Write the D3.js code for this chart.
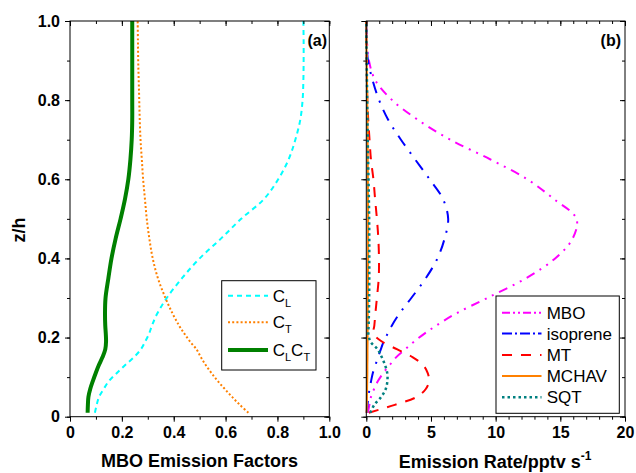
<!DOCTYPE html>
<html>
<head>
<meta charset="utf-8">
<script src="https://cdn.jsdelivr.net/npm/d3@7"></script>
<style>
  html, body { margin: 0; padding: 0; background: #fff; }
  svg { display: block; font-family: "Liberation Sans", Arial, sans-serif; }
</style>
</head>
<body>
<svg id="chart" width="636" height="473"></svg>
<script>
// Perfiles verticales en el dosel: (a) factores de emision de MBO, (b) tasas de emision.
// Todas las curvas leidas sobre la misma grilla de alturas normalizadas z/h.

const Z_LEVELS = [0.01, 0.03, 0.05, 0.07, 0.09, 0.11, 0.13, 0.15, 0.17, 0.19, 0.21, 0.23, 0.26,
  0.30, 0.35, 0.40, 0.45, 0.50, 0.55, 0.60, 0.65, 0.70, 0.75, 0.80, 0.85, 0.90, 0.95, 1.00];

// panel (a)
const C_L = [0.096, 0.103, 0.112, 0.130, 0.150, 0.180, 0.212, 0.246, 0.273, 0.290, 0.305, 0.316, 0.336,
  0.373, 0.432, 0.500, 0.582, 0.660, 0.748, 0.803, 0.843, 0.869, 0.888, 0.897, 0.900, 0.901, 0.901, 0.900];
const C_T = [0.688, 0.655, 0.625, 0.597, 0.570, 0.546, 0.524, 0.505, 0.488, 0.463, 0.441, 0.421, 0.396,
  0.368, 0.339, 0.319, 0.306, 0.296, 0.289, 0.282, 0.277, 0.272, 0.269, 0.267, 0.265, 0.263, 0.262, 0.261];
const C_LC_T = [0.068, 0.069, 0.071, 0.078, 0.088, 0.099, 0.111, 0.125, 0.136, 0.139, 0.138, 0.136, 0.135,
  0.137, 0.148, 0.160, 0.176, 0.195, 0.212, 0.225, 0.233, 0.238, 0.240, 0.240, 0.240, 0.240, 0.240, 0.240];

// panel (b), pptv s-1
const MBO = [0.12, 0.24, 0.36, 0.60, 0.90, 1.30, 1.80, 2.30, 3.00, 3.70, 4.50, 5.40, 6.90,
  9.35, 12.35, 14.60, 15.95, 16.25, 14.50, 12.45, 9.60, 6.50, 4.00, 2.00, 0.70, 0.20, 0.05, 0.00];
const ISOPRENE = [0.03, 0.09, 0.16, 0.25, 0.37, 0.50, 0.70, 0.91, 1.12, 1.35, 1.65, 1.97, 2.55,
  3.48, 4.60, 5.50, 6.05, 6.33, 5.93, 4.89, 3.78, 2.68, 1.70, 0.99, 0.49, 0.13, 0.03, 0.00];
const MT = [0.20, 2.20, 3.90, 4.60, 4.85, 4.75, 4.40, 3.60, 2.40, 1.20, 0.55, 0.62, 0.70,
  0.82, 0.96, 0.98, 0.93, 0.82, 0.68, 0.55, 0.36, 0.25, 0.15, 0.08, 0.05, 0.03, 0.01, 0.00];
const MCHAV = [0.02, 0.04, 0.05, 0.06, 0.07, 0.08, 0.08, 0.09, 0.09, 0.10, 0.10, 0.11, 0.11,
  0.12, 0.13, 0.14, 0.14, 0.14, 0.13, 0.12, 0.11, 0.10, 0.09, 0.07, 0.05, 0.03, 0.01, 0.00];
const SQT = [0.30, 0.62, 1.15, 1.50, 1.63, 1.62, 1.45, 1.20, 0.88, 0.32, 0.16, 0.18, 0.20,
  0.22, 0.23, 0.23, 0.23, 0.22, 0.20, 0.17, 0.14, 0.11, 0.09, 0.07, 0.05, 0.03, 0.01, 0.00];

const X_TICKS_A = [0, 0.2, 0.4, 0.6, 0.8, 1.0];
const X_TICKS_B = [0, 5, 10, 15, 20];
const Y_TICKS = [0, 0.2, 0.4, 0.6, 0.8, 1.0];

const FONT = '"Liberation Sans", Arial, sans-serif';
const svg = d3.select('#chart');
const yTop = 21, yBot = 416.7;
const y = d3.scaleLinear().domain([0, 1]).range([yBot, yTop]);

const fmtDec = v => v === 0 ? '0' : v.toFixed(1);

function drawAxes(x, majors, minorStep, fmtX, showYLabels) {
  const [x0, x1] = x.range();
  const minors = d3.range(x.domain()[0], x.domain()[1] + minorStep / 2, minorStep);
  const yMinors = d3.range(0, 1.05, 0.1);
  const g = svg.append('g');

  const styleAx = sel => {
    sel.select('.domain').remove();
    sel.selectAll('line').attr('stroke', '#000').attr('stroke-width', 1);
    sel.selectAll('text').attr('font-family', FONT).attr('font-weight', 700)
      .style('font-size', '16px').attr('fill', '#000');
  };

  // abajo / izquierda: ticks hacia afuera con etiquetas
  g.append('g').attr('transform', `translate(0,${yBot})`)
    .call(d3.axisBottom(x).tickValues(minors).tickSize(3).tickFormat('')).call(styleAx);
  g.append('g').attr('transform', `translate(0,${yBot})`)
    .call(d3.axisBottom(x).tickValues(majors).tickSize(5).tickPadding(5).tickFormat(fmtX)).call(styleAx);
  g.append('g').attr('transform', `translate(${x0},0)`)
    .call(d3.axisLeft(y).tickValues(yMinors).tickSize(3).tickFormat('')).call(styleAx);
  g.append('g').attr('transform', `translate(${x0},0)`)
    .call(d3.axisLeft(y).tickValues(Y_TICKS).tickSize(5).tickPadding(5)
      .tickFormat(showYLabels ? fmtDec : '')).call(styleAx);

  // arriba / derecha: ticks hacia adentro
  g.append('g').attr('transform', `translate(0,${yTop})`)
    .call(d3.axisTop(x).tickValues(minors).tickSize(-3).tickFormat('')).call(styleAx);
  g.append('g').attr('transform', `translate(0,${yTop})`)
    .call(d3.axisTop(x).tickValues(majors).tickSize(-5).tickFormat('')).call(styleAx);
  g.append('g').attr('transform', `translate(${x1},0)`)
    .call(d3.axisRight(y).tickValues(yMinors).tickSize(-3).tickFormat('')).call(styleAx);
  g.append('g').attr('transform', `translate(${x1},0)`)
    .call(d3.axisRight(y).tickValues(Y_TICKS).tickSize(-5).tickFormat('')).call(styleAx);

  g.append('rect').attr('x', x0).attr('y', yTop).attr('width', x1 - x0).attr('height', yBot - yTop)
    .attr('fill', 'none').attr('stroke', '#000').attr('stroke-width', 1);
}

function drawSeries(x, series) {
  const line = d3.line()
    .x(d => x(d[0])).y(d => y(d[1]))
    .curve(d3.curveCatmullRom.alpha(0.5));
  series.forEach(s => {
    svg.append('path')
      .datum(s.values.map((v, i) => [v, Z_LEVELS[i]]))
      .attr('d', line)
      .attr('fill', 'none')
      .attr('stroke', s.color).attr('stroke-width', s.width)
      .attr('stroke-dasharray', s.dash || null);
  });
}

function drawLegend(box, series, rowY, lineX0, lineX1, textX) {
  svg.append('rect').attr('x', box[0]).attr('y', box[1])
    .attr('width', box[2] - box[0]).attr('height', box[3] - box[1])
    .attr('fill', '#fff').attr('stroke', '#000').attr('stroke-width', 1);
  series.forEach((s, i) => {
    const yy = rowY[i];
    svg.append('line').attr('x1', lineX0).attr('x2', lineX1).attr('y1', yy).attr('y2', yy)
      .attr('stroke', s.color).attr('stroke-width', s.width)
      .attr('stroke-dasharray', s.legendDash || s.dash || null);
    const t = svg.append('text').attr('x', textX).attr('y', yy + 6)
      .attr('font-family', FONT).style('font-size', '17px').attr('fill', '#000');
    s.label(t);
  });
}

// ---------- panel (a)
const xa = d3.scaleLinear().domain([0, 1]).range([70, 329.3]);
const seriesA = [
  { values: C_L, color: '#00FFFF', width: 2, dash: '5,4',
    label: t => { t.text('C'); t.append('tspan').attr('dy', 5).style('font-size', '11px').text('L'); } },
  { values: C_T, color: '#FF8000', width: 2, dash: '2,2.2',
    label: t => { t.text('C'); t.append('tspan').attr('dy', 5).style('font-size', '11px').text('T'); } },
  { values: C_LC_T, color: '#008000', width: 4, dash: null,
    label: t => {
      t.text('C');
      t.append('tspan').attr('dy', 5).style('font-size', '11px').text('L');
      t.append('tspan').attr('dy', -5).text('C');
      t.append('tspan').attr('dy', 5).style('font-size', '11px').text('T');
    } },
];
drawSeries(xa, seriesA);
drawAxes(xa, X_TICKS_A, 0.1, fmtDec, true);
drawLegend([221.7, 280.7, 316, 370], seriesA, [295.7, 322.3, 350], 228, 268, 272.7);

// ---------- panel (b)
const xb = d3.scaleLinear().domain([0, 20]).range([366.3, 625]);
const simple = name => t => t.text(name);
const seriesB = [
  { values: MBO, color: '#FF00FF', width: 2, dash: '9,6,2,6,2,6', legendDash: '8,3,2,3,2,3', label: simple('MBO') },
  { values: ISOPRENE, color: '#0000FF', width: 2, dash: '12,8,2,8', legendDash: '10,3,2,3', label: simple('isoprene') },
  { values: MT, color: '#FF0000', width: 2, dash: '10,9', label: simple('MT') },
  { values: MCHAV, color: '#FF8000', width: 2, dash: null, label: simple('MCHAV') },
  { values: SQT, color: '#008080', width: 2.5, dash: '2.5,3', label: simple('SQT') },
];
drawSeries(xb, seriesB);
drawAxes(xb, X_TICKS_B, 1, d3.format('d'), false);
drawLegend([496, 296, 619.3, 413.3], seriesB, [312.7, 333.5, 355, 376, 397.3], 502, 541.5, 546.7);

// ---------- textos
const bold = sel => sel.attr('font-family', FONT).attr('font-weight', 700).attr('fill', '#000');
svg.append('text').attr('x', 327).attr('y', 46).attr('text-anchor', 'end')
  .style('font-size', '16px').call(bold).text('(a)');
svg.append('text').attr('x', 621).attr('y', 46).attr('text-anchor', 'end')
  .style('font-size', '16px').call(bold).text('(b)');

svg.append('text').attr('transform', 'translate(25,230) rotate(-90)').attr('text-anchor', 'middle')
  .style('font-size', '18px').call(bold).text('z/h');

svg.append('text').attr('x', 199.5).attr('y', 467).attr('text-anchor', 'middle')
  .style('font-size', '18px').call(bold).text('MBO Emission Factors');

const tb = svg.append('text').attr('x', 495).attr('y', 468).attr('text-anchor', 'middle')
  .style('font-size', '18px').call(bold).text('Emission Rate/pptv s');
tb.append('tspan').attr('dy', -8).style('font-size', '12px').text('-1');
</script>
</body>
</html>
